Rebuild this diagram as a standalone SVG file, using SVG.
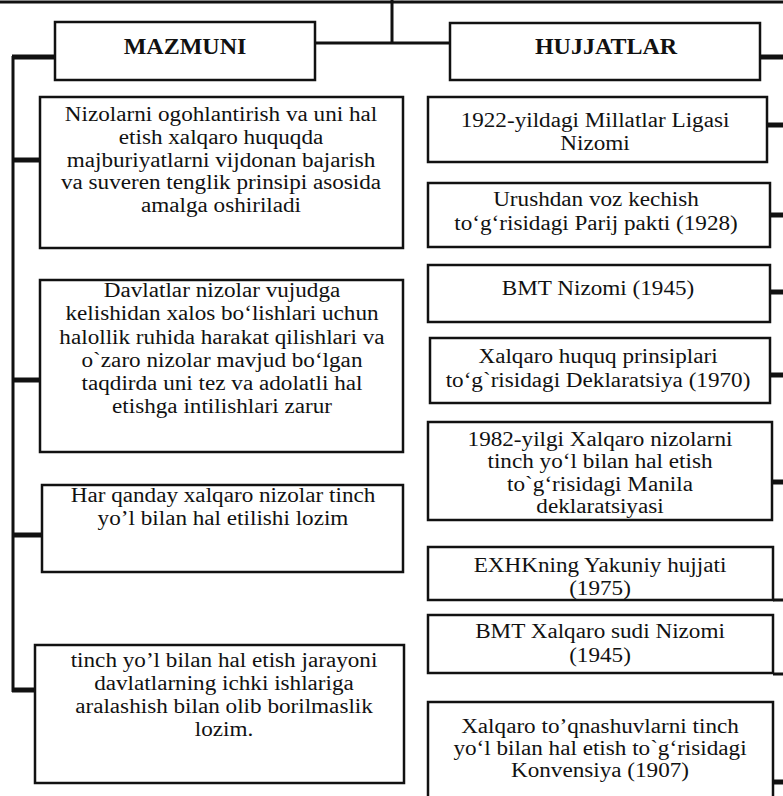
<svg xmlns="http://www.w3.org/2000/svg" width="783" height="796" viewBox="0 0 783 796">
<style>
.box{fill:#fff;stroke:#111;stroke-width:2.5}
.ln{stroke:#111;stroke-width:3;fill:none}
.stub{stroke:#111;stroke-width:5;fill:none}
.hd{font-family:"Liberation Serif","Times New Roman",serif;font-weight:bold;font-size:24px;fill:#111;text-anchor:middle}
.t{font-family:"Liberation Serif","Times New Roman",serif;font-size:20.5px;fill:#111;text-anchor:middle}
</style>
<rect width="783" height="796" fill="#fff"/>
<g id="connectors">
<line class="ln" x1="0" y1="2" x2="783" y2="2"/>
<line class="ln" x1="392" y1="0" x2="392" y2="43"/>
<line class="ln" x1="315" y1="43" x2="450" y2="43"/>
<line class="ln" x1="13" y1="56" x2="13" y2="692"/>
<line class="stub" x1="12" y1="57" x2="55" y2="57"/>
<line class="stub" x1="13" y1="160" x2="40" y2="160"/>
<line class="stub" x1="13" y1="380" x2="40" y2="380"/>
<line class="stub" x1="13" y1="535" x2="42" y2="535"/>
<line class="stub" x1="12" y1="690" x2="35" y2="690"/>
<line class="stub" x1="760" y1="57" x2="783" y2="57"/>
<line class="stub" x1="767" y1="125" x2="783" y2="125"/>
<line class="stub" x1="770" y1="215" x2="783" y2="215"/>
<line class="stub" x1="770" y1="292" x2="783" y2="292"/>
<line class="stub" x1="770" y1="375" x2="783" y2="375"/>
<line class="stub" x1="772" y1="482" x2="783" y2="482"/>
<line class="ln" x1="773" y1="600" x2="783" y2="600"/>
<line class="ln" x1="773" y1="674" x2="783" y2="674"/>
<line class="stub" x1="773" y1="782" x2="783" y2="782"/>
</g>
<g id="mazmuni">
<rect class="box" x="55" y="22" width="260" height="58"/>
<text class="hd" x="185" y="54">MAZMUNI</text>
</g>
<g id="hujjatlar">
<rect class="box" x="450" y="23" width="310" height="57"/>
<text class="hd" x="606" y="54">HUJJATLAR</text>
</g>
<g id="left1">
<rect class="box" x="40" y="97" width="363" height="151"/>
<text class="t" transform="translate(221 0) scale(1.13 1)"><tspan x="0" y="121">Nizolarni ogohlantirish va uni hal</tspan><tspan x="0" y="143.8">etish xalqaro huquqda</tspan><tspan x="0" y="166.6">majburiyatlarni vijdonan bajarish</tspan><tspan x="0" y="189.4">va suveren tenglik prinsipi asosida</tspan><tspan x="0" y="212.2">amalga oshiriladi</tspan></text>
</g>
<g id="left2">
<rect class="box" x="40" y="280" width="363" height="172"/>
<text class="t" transform="translate(222 0) scale(1.13 1)"><tspan x="0" y="297">Davlatlar nizolar vujudga</tspan><tspan x="0" y="320.3">kelishidan xalos bo‘lishlari uchun</tspan><tspan x="0" y="343.6">halollik ruhida harakat qilishlari va</tspan><tspan x="0" y="366.9">o`zaro nizolar mavjud bo‘lgan</tspan><tspan x="0" y="390.2">taqdirda uni tez va adolatli hal</tspan><tspan x="0" y="413.5">etishga intilishlari zarur</tspan></text>
</g>
<g id="left3">
<rect class="box" x="42" y="485" width="361" height="87"/>
<text class="t" transform="translate(223 0) scale(1.13 1)"><tspan x="0" y="502">Har qanday xalqaro nizolar tinch</tspan><tspan x="0" y="525">yo’l bilan hal etilishi lozim</tspan></text>
</g>
<g id="left4">
<rect class="box" x="35" y="645" width="369" height="138"/>
<text class="t" transform="translate(224 0) scale(1.13 1)"><tspan x="0" y="667">tinch yo’l bilan hal etish jarayoni</tspan><tspan x="0" y="690">davlatlarning ichki ishlariga</tspan><tspan x="0" y="713">aralashish bilan olib borilmaslik</tspan><tspan x="0" y="736">lozim.</tspan></text>
</g>
<g id="doc1">
<rect class="box" x="428" y="97" width="339" height="65"/>
<text class="t" transform="translate(595 0) scale(1.13 1)"><tspan x="0" y="127">1922-yildagi Millatlar Ligasi</tspan><tspan x="0" y="150">Nizomi</tspan></text>
</g>
<g id="doc2">
<rect class="box" x="428" y="183" width="342" height="64"/>
<text class="t" transform="translate(596 0) scale(1.13 1)"><tspan x="0" y="206">Urushdan voz kechish</tspan><tspan x="0" y="230">to‘g‘risidagi Parij pakti (1928)</tspan></text>
</g>
<g id="doc3">
<rect class="box" x="428" y="265" width="342" height="57"/>
<text class="t" transform="translate(598 0) scale(1.13 1)" x="0" y="295">BMT Nizomi (1945)</text>
</g>
<g id="doc4">
<rect class="box" x="430" y="338" width="340" height="65"/>
<text class="t" transform="translate(598 0) scale(1.13 1)"><tspan x="0" y="363">Xalqaro huquq prinsiplari</tspan><tspan x="0" y="387">to‘g`risidagi Deklaratsiya (1970)</tspan></text>
</g>
<g id="doc5">
<rect class="box" x="428" y="422" width="344" height="98"/>
<text class="t" transform="translate(600 0) scale(1.13 1)"><tspan x="0" y="446">1982-yilgi Xalqaro nizolarni</tspan><tspan x="0" y="468.5">tinch yo‘l bilan hal etish</tspan><tspan x="0" y="491">to`g‘risidagi Manila</tspan><tspan x="0" y="513">deklaratsiyasi</tspan></text>
</g>
<g id="doc6">
<rect class="box" x="428" y="547" width="345" height="53"/>
<text class="t" transform="translate(600 0) scale(1.13 1)"><tspan x="0" y="572">EXHKning Yakuniy hujjati</tspan><tspan x="0" y="595">(1975)</tspan></text>
</g>
<g id="doc7">
<rect class="box" x="428" y="615" width="345" height="58"/>
<text class="t" transform="translate(600 0) scale(1.13 1)"><tspan x="0" y="638">BMT Xalqaro sudi Nizomi</tspan><tspan x="0" y="662">(1945)</tspan></text>
</g>
<g id="doc8">
<rect class="box" x="428" y="702" width="345" height="110"/>
<text class="t" transform="translate(600 0) scale(1.13 1)"><tspan x="0" y="733">Xalqaro to’qnashuvlarni tinch</tspan><tspan x="0" y="755">yo‘l bilan hal etish to`g‘risidagi</tspan><tspan x="0" y="777">Konvensiya (1907)</tspan></text>
</g>
</svg>
